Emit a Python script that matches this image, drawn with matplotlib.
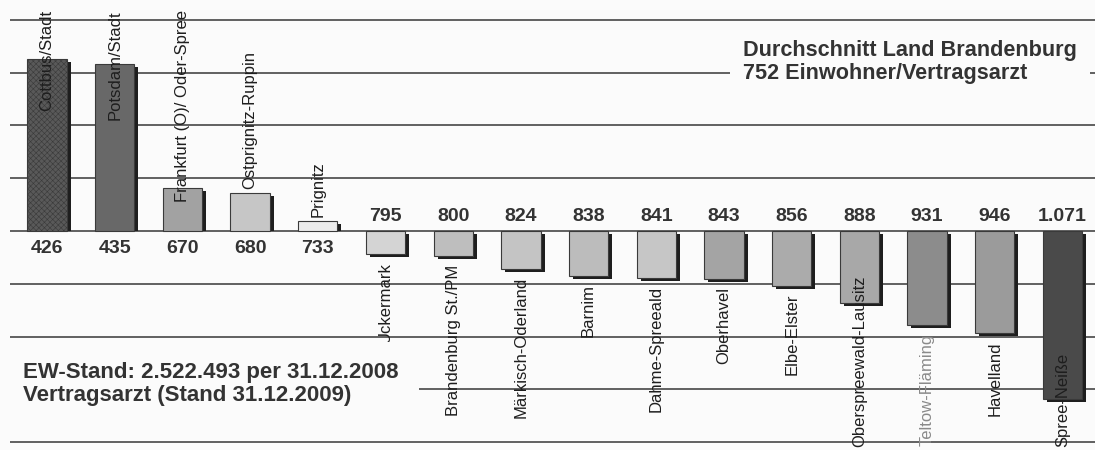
import matplotlib
matplotlib.use('Agg')
import matplotlib.pyplot as plt

plt.rcParams['font.family'] = ['Liberation Sans', 'DejaVu Sans']
plt.rcParams['hatch.linewidth'] = 0.4

kreise = ['Cottbus/Stadt', 'Potsdam/Stadt', 'Frankfurt (O)/ Oder-Spree', 'Ostprignitz-Ruppin',
          'Prignitz', 'Uckermark', 'Brandenburg St./PM', 'Märkisch-Oderland', 'Barnim',
          'Dahme-Spreeald', 'Oberhavel', 'Elbe-Elster', 'Oberspreewald-Lausitz',
          'Teltow-Fläming', 'Havelland', 'Spree-Neiße']
einwohner_je_arzt = [426, 435, 670, 680, 733, 795, 800, 824, 838, 841, 843, 856, 888, 931, 946, 1071]
durchschnitt = 752
grautoene = ['#595959', '#686868', '#a2a2a2', '#c6c6c6', '#ececec', '#d4d4d4', '#bebebe', '#c4c4c4',
             '#bcbcbc', '#c6c6c6', '#a4a4a4', '#ababab', '#a8a8a8', '#8c8c8c', '#9b9b9b', '#4a4a4a']
gitter = [352, 452, 552, 652, 752, 852, 952, 1052, 1152]

W, H = 1095, 450
fig = plt.figure(figsize=(W / 100, H / 100), dpi=100)
fig.patch.set_facecolor('#fbfbfb')
ax = fig.add_axes([0, 0, 1, 1])
ax.set_facecolor('#fbfbfb')
ax.set_xlim(-0.694, 15.48)
ax.set_ylim(1167, 314.5)
ax.axis('off')

# px -> Daten
px_x = (15.48 + 0.694) / W
px_y = (1167 - 314.5) / H

ax.hlines(gitter, -0.55, 16, color='#606060', lw=1.4, zorder=1)

breite = 0.58
for i, wert in enumerate(einwohner_je_arzt):
    # Schatten rechts unten
    sx, sy = 4 * px_x, 3 * px_y
    if wert < durchschnitt:
        ax.bar(i + sx, durchschnitt - (wert + sy), bottom=wert + sy, width=breite,
               color='#1e1e1e', zorder=2)
    else:
        ax.bar(i + sx, wert - durchschnitt, bottom=durchschnitt + sy, width=breite,
               color='#1e1e1e', zorder=2)
    ax.bar(i, wert - durchschnitt, bottom=durchschnitt, width=breite, color=grautoene[i],
           edgecolor='#3a3a3a', lw=0.8, hatch='xxxxxx' if i == 0 else None, zorder=3)

    txt = f'{wert:,}'.replace(',', '.')
    if wert < durchschnitt:
        ax.text(i, durchschnitt + 18 * px_y, txt, ha='center', va='center', fontsize=14,
                fontweight='bold', color='#333333', zorder=5)
    else:
        ax.text(i, durchschnitt - 14 * px_y, txt, ha='center', va='center', fontsize=14,
                fontweight='bold', color='#333333', zorder=5)

# Namen senkrecht an die Balkenenden, nicht ueber den Rand hinaus
fig.canvas.draw()
renderer = fig.canvas.get_renderer()
for i, wert in enumerate(einwohner_je_arzt):
    farbe = '#8a8a8a' if kreise[i] == 'Teltow-Fläming' else '#1e1e1e'
    if wert < durchschnitt:
        y = wert - 4 * px_y
        t = ax.text(i, y, kreise[i], rotation=90, ha='center', va='bottom', fontsize=12,
                    color=farbe, zorder=6)
        bb = t.get_window_extent(renderer)
        zu_viel = bb.y1 - (H - 10)
        if zu_viel > 0:
            t.set_y(y + zu_viel * px_y)
    else:
        y = wert + 8 * px_y
        t = ax.text(i, y, kreise[i], rotation=90, ha='center', va='top', fontsize=12,
                    color=farbe, zorder=6)
        bb = t.get_window_extent(renderer)
        zu_viel = 3 - bb.y0
        if zu_viel > 0:
            t.set_y(y - zu_viel * px_y)

ax.text(743 * px_x - 0.694, 314.5 + 62 * px_y,
        'Durchschnitt Land Brandenburg\n752 Einwohner/Vertragsarzt',
        ha='left', va='center', fontsize=15.6, fontweight='bold', color='#333333',
        linespacing=1.15, zorder=7,
        bbox=dict(boxstyle='square,pad=0.6', fc='#fbfbfb', ec='none'))

ax.text(23 * px_x - 0.694, 314.5 + 384 * px_y,
        'EW-Stand: 2.522.493 per 31.12.2008\nVertragsarzt (Stand 31.12.2009)',
        ha='left', va='center', fontsize=16, fontweight='bold', color='#333333',
        linespacing=1.17, zorder=7,
        bbox=dict(boxstyle='square,pad=0.9', fc='#fbfbfb', ec='none'))

fig.savefig('out.png', dpi=100)
